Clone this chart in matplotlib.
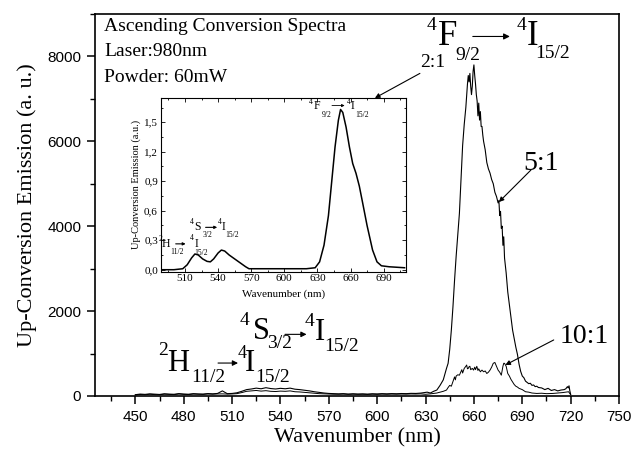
import matplotlib
matplotlib.use("Agg")
from matplotlib import pyplot as plt
from matplotlib.ticker import MultipleLocator, FuncFormatter

SERIF = "Liberation Serif"
SANS = "Liberation Sans"

# ---------------------------------------------------------------
# Main spectra
# ---------------------------------------------------------------
wl_low = [450, 453, 456, 459, 462, 465, 468, 471, 474, 477, 480, 483,
          486, 489, 492, 495, 498, 501, 504,
          507, 510, 513, 516, 519, 522, 525, 528, 531, 534, 537, 540,
          543, 546, 549, 552, 555, 558, 561, 564, 567, 570, 573, 576,
          579, 582, 585, 588, 591, 594, 597, 600, 603, 606, 609, 612,
          615, 618, 621, 624, 627]

em_5to1_low = [30, 45, 38, 50, 42, 36, 52, 44, 40, 56, 46, 41,
               55, 48, 45, 57, 50, 60, 120,
               55, 60, 75, 110, 150, 165, 185, 170, 195, 175, 165, 180,
               170, 185, 160, 150, 135, 120, 100, 85, 70, 60, 55, 50,
               55, 45, 52, 46, 50, 44, 52, 48, 55, 50, 56, 52,
               58, 55, 62, 60, 68]

em_10to1_low = [25, 35, 30, 40, 33, 30, 42, 36, 32, 45, 38, 34,
                44, 40, 37, 46, 42, 48, 50,
                45, 48, 55, 80, 110, 120, 130, 115, 125, 110, 105, 115,
                110, 120, 100, 95, 85, 75, 65, 55, 50, 45, 42, 40,
                44, 38, 42, 38, 40, 36, 42, 38, 44, 40, 45, 42,
                46, 44, 48, 46, 50]

wl_5to1_peak = [631, 633, 635, 637, 639, 641, 643, 644, 645, 646, 647, 648,
                649, 650, 651, 652, 653, 654, 655, 656, 656.5, 657, 657.5,
                658, 658.5, 659, 659.5, 660, 660.5, 661, 661.5, 662, 662.5,
                663, 663.5, 664, 664.5, 665, 665.5, 666, 667, 668, 669, 670,
                671, 672, 673, 674, 675, 675.5, 676, 676.5, 677, 677.5, 678,
                678.5, 679, 680, 681, 682, 683, 684, 685, 686, 687, 688, 689,
                690, 691, 692, 693, 694, 695, 696, 697, 698, 699, 700, 702,
                704, 706, 708, 710, 712, 714, 716, 717, 718, 718.5, 719,
                719.5, 720]
em_5to1_peak = [90, 70, 110, 140, 250, 380, 650, 770, 1100, 1550, 2100, 2730,
                3300, 3800, 4300, 5100, 5900, 6400, 6800, 7350, 7550, 7400, 7600,
                7300, 7100, 7300, 7650, 7800, 7550, 7350, 7100, 6950, 6600,
                6900, 6500, 6700, 6350, 6350, 6150, 6000, 5800, 5500, 5350, 5250,
                5100, 5000, 4800, 4700, 4550, 4600, 4250, 4350, 3950, 4000, 3550,
                3750, 3250, 2900, 2450, 2150, 1850, 1550, 1350, 1150, 980, 750, 580,
                470, 430, 350, 320, 290, 300, 250, 260, 220, 230, 200, 190,
                150, 180, 130, 150, 120, 140, 150, 170, 220, 190, 240,
                120, 40]

wl_10to1_peak = [630, 633, 635, 637, 639, 641, 643, 644, 645, 646, 647, 648,
                 648.5, 649, 650, 651, 652, 652.5, 653, 654, 655, 655.5, 656,
                 656.5, 657, 657.5, 658, 659, 659.8, 660.5, 661, 661.8, 662.5,
                 663, 664, 665, 666, 667, 668, 669, 670, 671, 672, 673, 674,
                 675, 676, 677, 678, 678.5, 679, 680, 681, 682, 683, 684, 685,
                 686, 687, 688, 690, 692, 694, 696, 699, 702, 705, 709, 712,
                 715, 717, 718.7, 720]
em_10to1_peak = [40, 50, 60, 70, 90, 110, 140, 200, 250, 230, 340, 450,
                 380, 470, 500, 490, 580, 620, 540, 650, 700, 730, 640,
                 650, 690, 700, 620, 650, 610, 680, 620, 700, 600,
                 640, 570, 610, 570, 590, 530, 560, 610, 680, 770, 790, 700,
                 610, 560, 490, 700, 770, 770, 700, 530, 470, 390, 330, 270,
                 230, 210, 180, 150, 100, 90, 70, 60, 65, 55, 60, 70,
                 80, 90, 100, 30]

# ---------------------------------------------------------------
# Inset spectrum (2:1)
# ---------------------------------------------------------------
wl_inset = [488, 500, 508, 512, 516, 519, 522, 526, 530, 533, 536, 540, 543,
            546, 550, 555, 560, 565, 568, 580, 600, 620, 628, 632, 636, 640,
            643, 646, 649, 651, 653, 656, 659, 662, 665, 668, 671, 675, 680,
            684, 688, 695, 709]
em_inset = [0.0, 0.0, 0.01, 0.05, 0.12, 0.16, 0.15, 0.11, 0.085, 0.08, 0.11,
            0.17, 0.2, 0.19, 0.15, 0.11, 0.07, 0.03, 0.01, 0.01, 0.01, 0.01,
            0.02, 0.08, 0.25, 0.55, 0.9, 1.25, 1.52, 1.63, 1.6, 1.45, 1.25,
            1.08, 0.98, 0.85, 0.68, 0.45, 0.2, 0.08, 0.04, 0.03, 0.02]

main_xticks = [450, 480, 510, 540, 570, 600, 630, 660, 690, 720, 750]
main_yticks = [0, 2000, 4000, 6000, 8000]
inset_xticks = [510, 540, 570, 600, 630, 660, 690]
inset_yticks = [0.0, 0.3, 0.6, 0.9, 1.2, 1.5]


def txt(ax, x, y, s, size, **kw):
    ax.text(x, y, s, fontsize=size, family=SERIF, ha="center", va="center",
            clip_on=False, **kw)


def arrow(ax, start, end, lw=0.8, scale=8):
    ax.annotate("", xy=end, xytext=start,
                arrowprops=dict(arrowstyle="-|>", lw=lw, color="k",
                                mutation_scale=scale, shrinkA=0, shrinkB=0))


fig = plt.figure(figsize=(6.42, 4.55), dpi=100)
ax = fig.add_axes([0.148, 0.1297, 0.8162, 0.8396])

ax.plot(wl_low + wl_5to1_peak, em_5to1_low + em_5to1_peak, color="k", lw=0.8)
ax.plot(wl_low + wl_10to1_peak, em_10to1_low + em_10to1_peak, color="k", lw=0.7)

ax.set_xlim(425, 750)
ax.set_ylim(0, 9000)
ax.set_xticks(main_xticks)
ax.set_yticks(main_yticks)
ax.xaxis.set_minor_locator(MultipleLocator(15))
ax.yaxis.set_minor_locator(MultipleLocator(1000))
ax.tick_params(which="major", direction="out", length=6, width=1.1,
               labelsize=11, pad=4)
ax.tick_params(which="minor", direction="out", length=3.5, width=1.0)
for lab in ax.get_xticklabels() + ax.get_yticklabels():
    lab.set_family(SANS)
for sp in ax.spines.values():
    sp.set_linewidth(1.2)

ax.set_xlabel("Wavenumber (nm)", family=SERIF, fontsize=16, labelpad=3)
ax.set_ylabel("Up-Conversion Emission (a. u.)", family=SERIF, fontsize=16,
              labelpad=7)

# header text
ax.text(0.017, 0.966, "Ascending Conversion Spectra", transform=ax.transAxes,
        family=SERIF, fontsize=14, va="center")
ax.text(0.017, 0.901, "Laser:980nm", transform=ax.transAxes,
        family=SERIF, fontsize=14, va="center")
ax.text(0.017, 0.835, "Powder: 60mW", transform=ax.transAxes,
        family=SERIF, fontsize=14, va="center")

# 4F9/2 -> 4I15/2
txt(ax, 633.9, 8730, "4", 14)
txt(ax, 643.8, 8470, "F", 25)
txt(ax, 656.5, 8020, "9/2", 14)
arrow(ax, (659.3, 8470), (682.3, 8470), scale=9)
txt(ax, 689.5, 8730, "4", 14)
txt(ax, 696.5, 8470, "I", 25)
txt(ax, 708.9, 8070, "15/2", 14)

# 4S3/2 -> 4I15/2
txt(ax, 518.0, 1770, "4", 14)
txt(ax, 528.3, 1513, "S", 22)
txt(ax, 539.7, 1247, "3/2", 14)
arrow(ax, (542.8, 1452), (556.2, 1452), scale=8)
txt(ax, 558.3, 1765, "4", 14)
txt(ax, 564.5, 1506, "I", 22)
txt(ax, 577.9, 1160, "15/2", 14)

# 2H11/2 -> 4I15/2
txt(ax, 467.3, 1082, "2", 14)
txt(ax, 476.6, 776, "H", 22)
txt(ax, 495.2, 424, "11/2", 14)
arrow(ax, (501.3, 776), (513.7, 776), scale=8)
txt(ax, 516.0, 1010, "4", 13)
txt(ax, 521.1, 776, "I", 22)
txt(ax, 535.4, 424, "15/2", 14)

# ratio labels
txt(ax, 634.5, 7866, "2:1", 14)
arrow(ax, (626.5, 7600), (598.6, 7020), lw=0.8, scale=7)
txt(ax, 701.9, 5475, "5:1", 20)
arrow(ax, (695.4, 5325), (675.5, 4570), lw=0.8, scale=7)
txt(ax, 728.2, 1395, "10:1", 20)
arrow(ax, (709.5, 1320), (679.5, 730), lw=0.8, scale=7)

# ---------------------------------------------------------------
# Inset
# ---------------------------------------------------------------
ins = fig.add_axes([0.2503, 0.4029, 0.3816, 0.3824])
ins.plot(wl_inset, em_inset, color="k", lw=1.1)
ins.set_xlim(488, 710)
ins.set_ylim(-0.02, 1.75)
ins.set_xticks(inset_xticks)
ins.set_yticks(inset_yticks)
ins.xaxis.set_minor_locator(MultipleLocator(15))
ins.yaxis.set_minor_locator(MultipleLocator(0.15))
ins.yaxis.set_major_formatter(FuncFormatter(lambda v, p: f"{v:.1f}".replace(".", ",")))
ins.tick_params(which="both", direction="in", top=True, right=True,
                labelsize=8, width=0.6, pad=2)
ins.tick_params(which="major", length=3)
ins.tick_params(which="minor", length=1.5)
for lab in ins.get_xticklabels() + ins.get_yticklabels():
    lab.set_family(SERIF)
for sp in ins.spines.values():
    sp.set_linewidth(0.8)
ins.set_xlabel("Wavenumber (nm)", family=SERIF, fontsize=8, labelpad=4)
ins.set_ylabel("Up-Conversion Emission (a.u.)", family=SERIF, fontsize=7.5,
               labelpad=2)

# inset transition labels
txt(ins, 623.7, 1.71, "4", 5.5)
txt(ins, 629.6, 1.667, "F", 8.5)
txt(ins, 638.7, 1.576, "9/2", 5.5)
arrow(ins, (643.2, 1.67), (654.7, 1.67), lw=0.6, scale=4)
txt(ins, 658.3, 1.71, "4", 5.5)
txt(ins, 661.9, 1.667, "I", 8.5)
txt(ins, 670.3, 1.576, "15/2", 5.5)

txt(ins, 516.1, 0.482, "4", 5.5)
txt(ins, 521.1, 0.431, "S", 8.5)
txt(ins, 530.2, 0.354, "3/2", 5.5)
arrow(ins, (528.7, 0.431), (539.2, 0.431), lw=0.8, scale=4)
txt(ins, 541.6, 0.482, "4", 5.5)
txt(ins, 545.3, 0.431, "I", 8.5)
txt(ins, 552.8, 0.354, "15/2", 5.5)

txt(ins, 487.6, 0.313, "2", 5.5)
txt(ins, 492.5, 0.263, "H", 8.5)
txt(ins, 503.0, 0.18, "11/2", 5.5)
arrow(ins, (501.6, 0.263), (510.6, 0.263), lw=0.8, scale=4)
txt(ins, 516.6, 0.319, "4", 5.5)
txt(ins, 520.6, 0.263, "I", 8.5)
txt(ins, 525.0, 0.165, "15/2", 5.5)

fig.savefig("out.png", dpi=100)
